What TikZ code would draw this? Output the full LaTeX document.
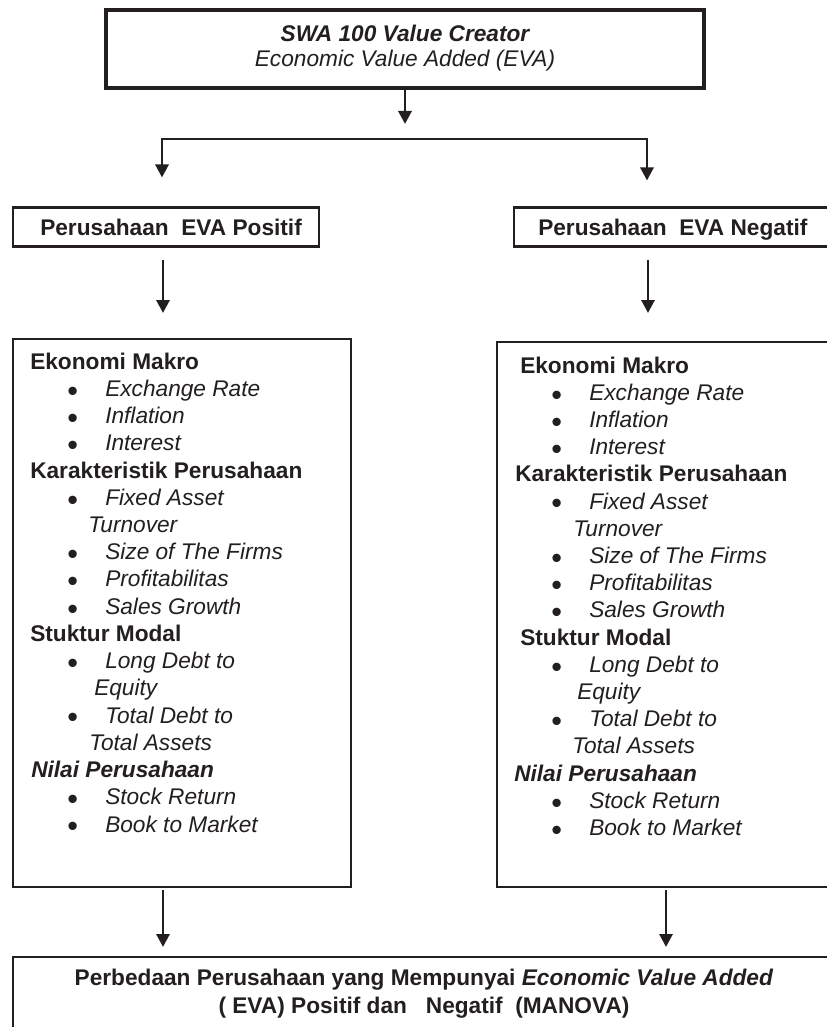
\documentclass[tikz,border=0pt]{standalone}
\usepackage{fontspec}
\usepackage{graphicx}
\setmainfont{Liberation Sans}
\usetikzlibrary{arrows.meta}
\definecolor{ink}{HTML}{231F20}
\newcommand\bul{{\upshape\makebox[28.5pt][l]{\raisebox{-3.6pt}[0pt][0pt]{\scalebox{1.35}{\textbullet}}}}}
\begin{document}
\begin{tikzpicture}[x=0.75pt,y=-0.75pt,
  box/.style={draw=ink, line width=2.2pt, rectangle, inner sep=0pt, outer sep=0pt},
  arr/.style={draw=ink, line width=2.2pt, -{Triangle[width=9.75pt,length=9.75pt]}},
  arrboth/.style={draw=ink, line width=2.2pt, line join=miter, {Triangle[width=9.75pt,length=9.75pt]}-{Triangle[width=9.75pt,length=9.75pt]}},
  txt/.style={inner sep=0pt, anchor=base west, text=ink, font=\fontsize{17}{20.4}\selectfont},
  hd/.style={txt, font=\fontsize{17}{20.4}\selectfont\bfseries},
  it/.style={txt, font=\fontsize{17}{20.4}\selectfont\itshape}]
\useasboundingbox (0,0) rectangle (827,1027);
\fill[white] (0,0) rectangle (827,1027);
\clip (0,0) rectangle (827,1027);

% boxes
\node[box, minimum width=448.5pt, minimum height=58.5pt, line width=2.4pt] (top) at (405,49) {};
\node[box, minimum width=229.5pt, minimum height=29.25pt] (pos) at (166,227) {};
\node[box, minimum width=259.5pt, minimum height=29.25pt] (neg) at (687,227) {};
\node[box, minimum width=253.5pt, minimum height=411pt] (lbig) at (182,613) {};
\node[box, minimum width=272.25pt, minimum height=408.75pt] (rbig) at (678.5,614.5) {};
\node[box, minimum width=665.25pt, minimum height=107.25pt] (bot) at (456.5,1028.5) {};

% top texts
\node[hd, anchor=base] (t1) at (405,42) {\itshape SWA 100 Value Creator};
\node[it, anchor=base] (t2) at (405,67) {Economic Value Added (EVA)};
\node[hd] (pt) at (40,235) {Perusahaan\ \ EVA Positif};
\node[hd] (nt) at (538,235) {Perusahaan\ \ EVA Negatif};

% connectors
\coordinate (jl) at (162,139);
\coordinate (jr) at (647,139);
\draw[arr, shorten >=11.25pt] (top.south) -- (top.south |- jl);
\draw[arrboth, shorten <=22.5pt, shorten >=20.25pt] (jl |- pos.north) -- (jl) -- (jr) -- (jr |- neg.north);

\coordinate (pa) at ([xshift=-2.25pt]pos.south);
\coordinate (na) at ([xshift=100.5pt]neg.south west);
\coordinate (la) at ([xshift=112.5pt]lbig.south west);
\coordinate (ra) at ([xshift=126.75pt]rbig.south west);
\draw[arr, shorten <=9.75pt, shorten >=19.5pt] (pa) -- (pa |- lbig.north);
\draw[arr, shorten <=9.75pt, shorten >=21.75pt] (na) -- (na |- rbig.north);
\draw[arr, shorten <=2.25pt, shorten >=7.5pt] (la) -- (la |- bot.north);
\draw[arr, shorten <=2.25pt, shorten >=7.5pt] (ra) -- (ra |- bot.north);

% left box lines
\node[hd] (l0) at (30,369) {Ekonomi Makro};
\node[it] (l1) at (67,396.2) {\bul Exchange Rate};
\node[it] (l2) at (67,423.5) {\bul Inflation};
\node[it] (l3) at (67,450.7) {\bul Interest};
\node[hd] (l4) at (30,478.0) {Karakteristik Perusahaan};
\node[it] (l5) at (67,505.2) {\bul Fixed Asset};
\node[it] (l6) at (88,532.4) {Turnover};
\node[it] (l7) at (67,559.7) {\bul Size of The Firms};
\node[it] (l8) at (67,586.9) {\bul Profitabilitas};
\node[it] (l9) at (67,614.2) {\bul Sales Growth};
\node[hd] (l10) at (30,641.4) {Stuktur Modal};
\node[it] (l11) at (67,668.6) {\bul Long Debt to};
\node[it] (l12) at (94,695.9) {Equity};
\node[it] (l13) at (67,723.1) {\bul Total Debt to};
\node[it] (l14) at (89,750.4) {Total Assets};
\node[hd] (l15) at (31,777.6) {\itshape Nilai Perusahaan};
\node[it] (l16) at (67,804.8) {\bul Stock Return};
\node[it] (l17) at (67,832.1) {\bul Book to Market};

% right box lines
\node[hd] (r0) at (520,373) {Ekonomi Makro};
\node[it] (r1) at (551,400.2) {\bul Exchange Rate};
\node[it] (r2) at (551,427.4) {\bul Inflation};
\node[it] (r3) at (551,454.6) {\bul Interest};
\node[hd] (r4) at (515,481.8) {Karakteristik Perusahaan};
\node[it] (r5) at (551,509.0) {\bul Fixed Asset};
\node[it] (r6) at (573,536.2) {Turnover};
\node[it] (r7) at (551,563.4) {\bul Size of The Firms};
\node[it] (r8) at (551,590.6) {\bul Profitabilitas};
\node[it] (r9) at (551,617.8) {\bul Sales Growth};
\node[hd] (r10) at (520,645.0) {Stuktur Modal};
\node[it] (r11) at (551,672.2) {\bul Long Debt to};
\node[it] (r12) at (577,699.4) {Equity};
\node[it] (r13) at (551,726.6) {\bul Total Debt to};
\node[it] (r14) at (572,753.8) {Total Assets};
\node[hd] (r15) at (514,781.0) {\itshape Nilai Perusahaan};
\node[it] (r16) at (551,808.2) {\bul Stock Return};
\node[it] (r17) at (551,835.4) {\bul Book to Market};

% bottom texts
\node[hd, anchor=base] (b1) at (424,985) {Perbedaan Perusahaan yang Mempunyai \textit{Economic Value Added}};
\node[hd, anchor=base] (b2) at (424,1013) {( EVA) Positif dan\ \ \ Negatif\ \ (MANOVA)};
\end{tikzpicture}
\end{document}
